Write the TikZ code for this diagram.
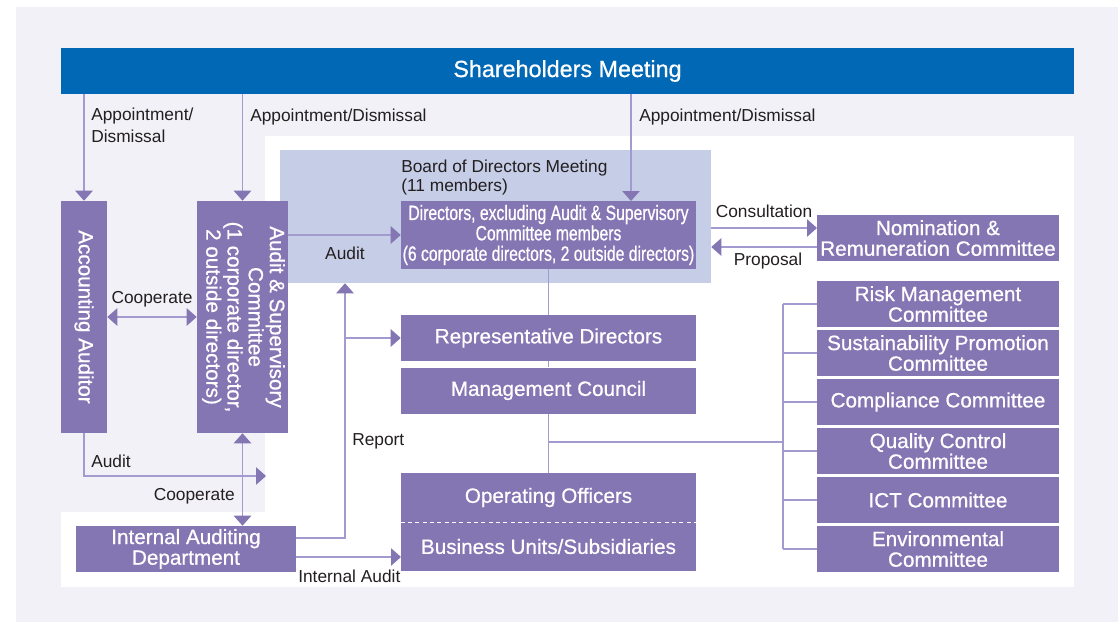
\documentclass[tikz,border=0pt]{standalone}
\usepackage{graphicx}
\usepackage{fontspec}
\setmainfont{Liberation Sans}
\newfontfamily\boxfont[FakeBold=0.7]{Liberation Sans}
\newfontfamily\narrowfont[FakeStretch=0.76,FakeBold=0.7]{Liberation Sans}
\usetikzlibrary{arrows.meta}
\definecolor{boxc}{RGB}{132,117,179}
\definecolor{linec}{RGB}{163,154,208}
\definecolor{sharec}{RGB}{0,104,180}
\definecolor{boardc}{RGB}{197,205,231}
\definecolor{bgc}{RGB}{242,241,248}
\definecolor{txtc}{RGB}{35,31,32}
\tikzset{
  pbox/.style={fill=boxc, text=white, inner sep=0pt, align=center, font=\boxfont\fontsize{15.5}{15.5}\selectfont},
  lbl/.style={text=txtc, inner sep=0pt, font=\fontsize{13}{16}\selectfont},
  conn/.style={draw=linec, line width=1.1pt},
  arr/.style={conn, -{Triangle[length=7.5pt,width=13pt,color=boxc]}},
  darr/.style={conn, {Triangle[length=7.5pt,width=13pt,color=boxc]}-{Triangle[length=7.5pt,width=13pt,color=boxc]}},
}
\begin{document}
\begin{tikzpicture}[x=0.75pt,y=-0.75pt]
                \useasboundingbox (0,0) rectangle (1118,625);
                \fill[bgc] (16,7) rectangle (1118,622);
                \fill[white] (265,136) -- (1074,136) -- (1074,587) -- (61,587) -- (61,512) -- (265,512) -- cycle;
                \node[fill=sharec, text=white, inner sep=0pt, minimum width=759.75pt, minimum height=34.5pt, font=\boxfont\fontsize{17.5}{17.5}\selectfont] (share) at (567.5,71) {Shareholders Meeting};
                \node[fill=boardc, inner sep=0pt, minimum width=323.25pt, minimum height=99.75pt] (board) at (495.5,216.5) {};
                \node[pbox, minimum width=221.25pt, minimum height=51pt, font=\narrowfont\fontsize{15.5}{15.3}\selectfont] (dirs) at (548.5,235) {Directors, excluding Audit \& Supervisory\\Committee members\\(6 corporate directors, 2 outside directors)};
                \node[pbox, minimum width=34.5pt, minimum height=174pt] (acc) at (84,317) {\rotatebox{-90}{Accounting Auditor}};
                \node[pbox, minimum width=68.25pt, minimum height=174pt] (asc) at (242.5,317) {\rotatebox{-90}{\begin{tabular}{@{}c@{}}Audit \& Supervisory\\Committee\\(1 corporate director,\\2 outside directors)\end{tabular}}};
                \node[pbox, minimum width=165pt, minimum height=34.5pt] (iad) at (186,549) {Internal Auditing\\Department};
                \node[pbox, minimum width=221.25pt, minimum height=34.5pt] (rep) at (548.5,338) {Representative Directors};
                \node[pbox, minimum width=221.25pt, minimum height=34.5pt] (mgmt) at (548.5,390.5) {Management Council};
                \node[pbox, minimum width=221.25pt, minimum height=36.75pt] (ops) at (548.5,497.5) {Operating Officers};
                \node[pbox, minimum width=221.25pt, minimum height=36.75pt] (bus) at (548.5,546.5) {Business Units/Subsidiaries};
                \node[pbox, minimum width=181.5pt, minimum height=34.5pt] (nom) at (938,238) {Nomination \&\\Remuneration Committee};
                \node[pbox, minimum width=181.5pt, minimum height=34.5pt] (c1) at (938,304) {Risk Management\\Committee};
                \node[pbox, minimum width=181.5pt, minimum height=34.5pt] (c2) at (938,353) {Sustainability Promotion\\Committee};
                \node[pbox, minimum width=181.5pt, minimum height=34.5pt] (c3) at (938,402) {Compliance Committee};
                \node[pbox, minimum width=181.5pt, minimum height=34.5pt] (c4) at (938,451) {Quality Control\\Committee};
                \node[pbox, minimum width=181.5pt, minimum height=34.5pt] (c5) at (938,500) {ICT Committee};
                \node[pbox, minimum width=181.5pt, minimum height=34.5pt] (c6) at (938,549) {Environmental\\Committee};
                \coordinate (d3) at (631,201);
                \coordinate (aa) at (266,476);
                \coordinate (rp) at (345,538);
                \coordinate (ia) at (401,557);
                \coordinate (br) at (783,442);
                \coordinate (cn) at (817,228);
                \coordinate (pr) at (817,247);
                \draw[white, line width=1pt, dash pattern=on 3pt off 2.5pt] (ops.south west) to (ops.south east);
                \draw[arr] (acc.north |- share.south) to (acc.north);
                \draw[arr] (asc.north |- share.south) to (asc.north);
                \draw[arr] (d3 |- share.south) to (d3);
                \draw[darr] (acc.east) to (asc.west);
                \draw[arr] (asc.east |- dirs.west) to (dirs.west);
                \draw[arr] (acc.south) |- (aa);
                \draw[darr] (asc.south) to (asc.south |- iad.north);
                \draw[arr] (iad.east |- rp) -- (rp) -- (rp |- board.south);
                \draw[arr] (rp |- rep.west) to (rep.west);
                \draw[arr] (iad.east |- ia) to (ia);
                \draw[conn] (dirs.south) to (rep.north);
                \draw[conn] (rep.south) to (mgmt.north);
                \draw[conn] (mgmt.south) to (ops.north);
                \draw[conn] (mgmt.south |- br) to (br);
                \draw[conn] (c1.west -| br) to (c6.west -| br);
                \draw[conn] (c1.west -| br) to (c1.west);
                \draw[conn] (c2.west -| br) to (c2.west);
                \draw[conn] (c3.west -| br) to (c3.west);
                \draw[conn] (c4.west -| br) to (c4.west);
                \draw[conn] (c5.west -| br) to (c5.west);
                \draw[conn] (c6.west -| br) to (c6.west);
                \draw[arr] (board.east |- cn) to (cn);
                \draw[arr] (pr) to (board.east |- pr);
                \node[lbl, anchor=north west, align=left, font=\fontsize{13}{16.5}\selectfont] (l1) at (91,108) {Appointment/\\Dismissal};
                \node[lbl, anchor=base west] (l2) at (250,121) {Appointment/Dismissal};
                \node[lbl, anchor=base west] (l3) at (639,121) {Appointment/Dismissal};
                \node[lbl, anchor=north west, align=left, font=\fontsize{13}{14.3}\selectfont] (l4) at (401,160) {Board of Directors Meeting\\(11 members)};
                \node[lbl, anchor=base] (l5) at (152,303) {Cooperate};
                \node[lbl, anchor=base] (l6) at (345,259) {Audit};
                \node[lbl, anchor=base] (l7) at (764,217) {Consultation};
                \node[lbl, anchor=base] (l8) at (768,265) {Proposal};
                \node[lbl, anchor=base west] (l9) at (91,467) {Audit};
                \node[lbl, anchor=base east] (l10) at (235,500) {Cooperate};
                \node[lbl, anchor=base west] (l11) at (352,445) {Report};
                \node[lbl, anchor=base west] (l12) at (298,582) {Internal Audit};
\end{tikzpicture}
\end{document}
